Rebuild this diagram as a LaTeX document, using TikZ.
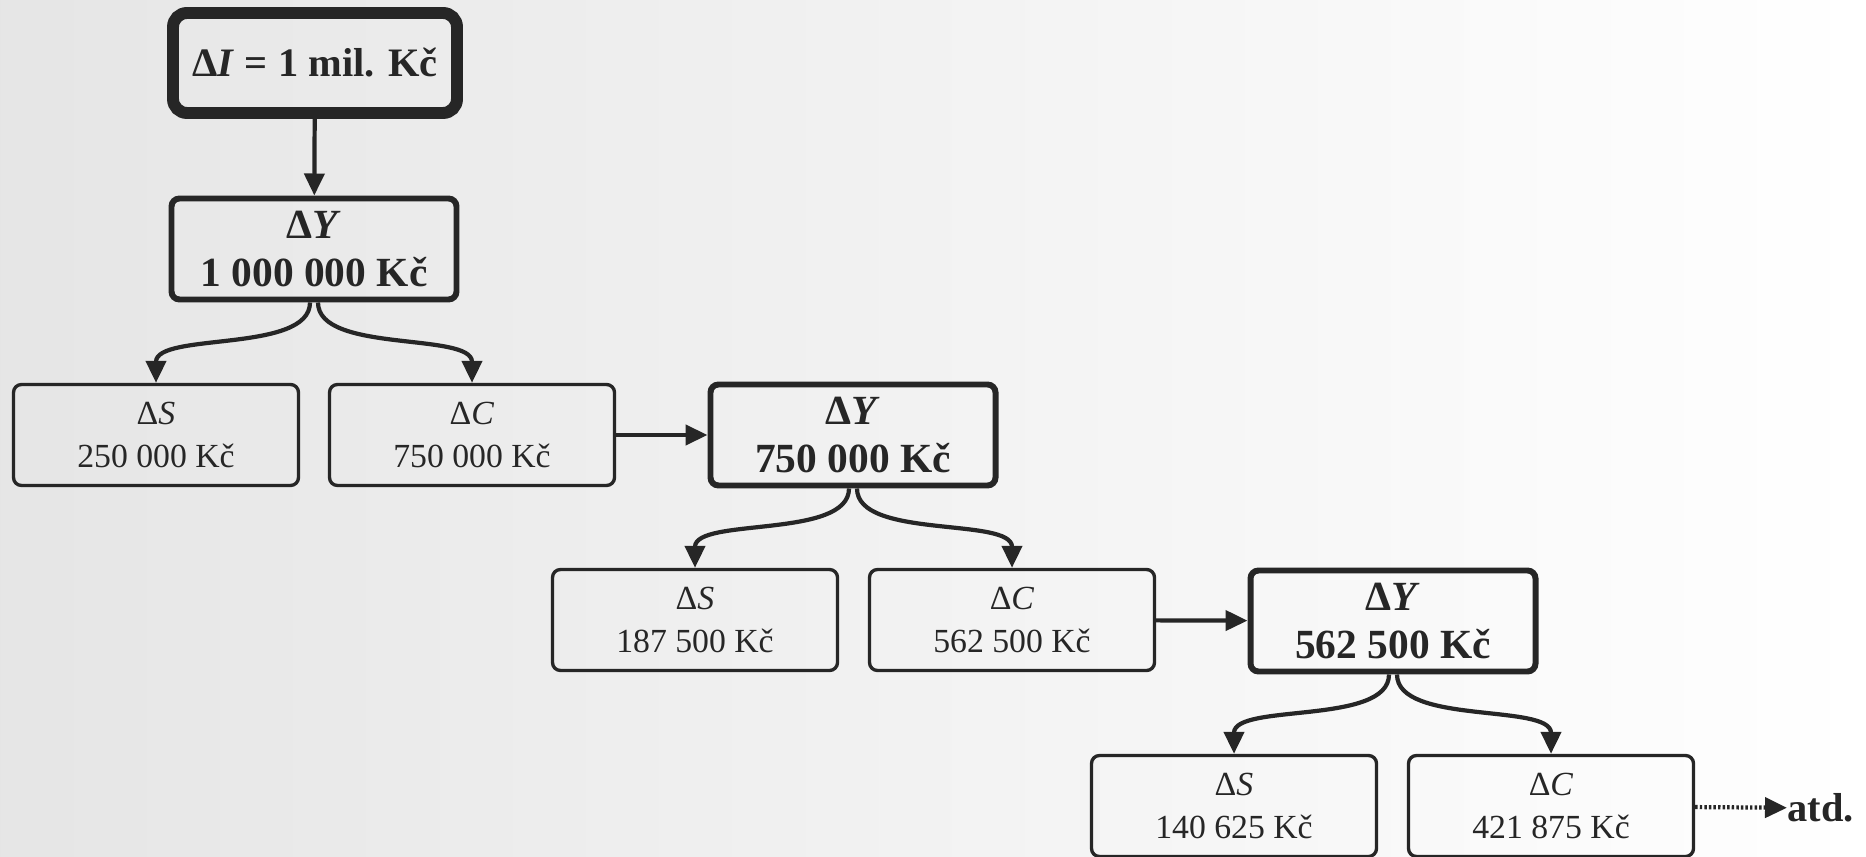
\documentclass[tikz,border=0pt]{standalone}
\usepackage{fontspec}
\setmainfont{Liberation Serif}
\usetikzlibrary{arrows.meta}
\definecolor{ink}{HTML}{262626}
\begin{document}
\begin{tikzpicture}[x=0.1mm,y=-0.1mm,
    box/.style={draw=ink,text=ink,rounded corners=0.8mm,align=center,inner sep=0pt,
      minimum width=2.85cm,minimum height=1.01cm},
    sbox/.style={box,line width=0.95pt,font=\fontsize{9.6}{12.5}\selectfont},
    ybox/.style={box,line width=1.7pt,font=\fontsize{11.8}{13.7}\selectfont\bfseries},
    tbox/.style={box,line width=3.4pt,rounded corners=1.4mm,minimum width=2.84cm,
      minimum height=1.0cm,font=\fontsize{11.5}{13.7}\selectfont\bfseries},
    arr/.style={draw=ink,line width=1.2pt,-{Triangle[length=2.2mm,width=2.0mm]}},
    swoop/.style={out=-90,in=90,looseness=0.75}]
    \def\dx{0.4mm}
    % pozadi
    \shade[left color=black!10,right color=white] (0,0) rectangle (1866,857);
    \useasboundingbox (0,0) rectangle (1866,857);
    % prvni krok
    \node[tbox] (inv) at (315,63) {Δ\textit{I} = 1 mil. Kč};
    \node[ybox] (y1) at (314,249) {Δ\textit{Y}\\1 000 000 Kč};
    \node[sbox] (s1) at (156,435) {Δ\textit{S}\\250 000 Kč};
    \node[sbox] (c1) at (472,435) {Δ\textit{C}\\750 000 Kč};
    % druhy krok
    \node[ybox] (y2) at (853,435) {Δ\textit{Y}\\750 000 Kč};
    \node[sbox] (s2) at (695,620) {Δ\textit{S}\\187 500 Kč};
    \node[sbox] (c2) at (1012,620) {Δ\textit{C}\\562 500 Kč};
    % treti krok
    \node[ybox] (y3) at (1393,621) {Δ\textit{Y}\\562 500 Kč};
    \node[sbox] (s3) at (1234,806) {Δ\textit{S}\\140 625 Kč};
    \node[sbox] (c3) at (1551,806) {Δ\textit{C}\\421 875 Kč};
    \node[text=ink,font=\fontsize{11.5}{13}\selectfont\bfseries,inner sep=0pt,anchor=west]
      (atd) at (1787,808) {atd.};
    % sipky
    \draw[arr] (inv) -- (y1);
    \draw[arr] ([xshift=-\dx]y1.south) to[swoop] (s1.north);
    \draw[arr] ([xshift=\dx]y1.south) to[swoop] (c1.north);
    \draw[arr] (c1) -- (y2);
    \draw[arr] ([xshift=-\dx]y2.south) to[swoop] (s2.north);
    \draw[arr] ([xshift=\dx]y2.south) to[swoop] (c2.north);
    \draw[arr] (c2) -- (y3);
    \draw[arr] ([xshift=-\dx]y3.south) to[swoop] (s3.north);
    \draw[arr] ([xshift=\dx]y3.south) to[swoop] (c3.north);
    \draw[arr,dash pattern=on 0.7pt off 0.6pt] (c3) -- (atd);
\end{tikzpicture}
\end{document}
